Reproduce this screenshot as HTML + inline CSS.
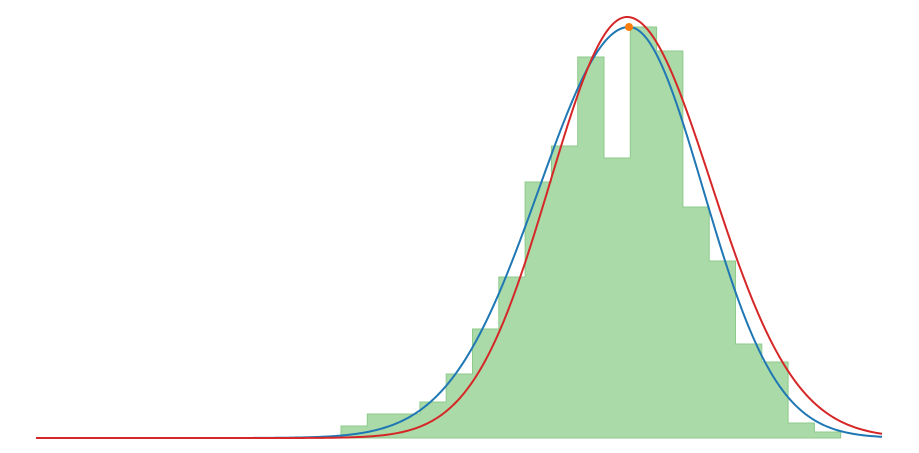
<!DOCTYPE html>
<html><head><meta charset="utf-8"><style>
html,body{margin:0;padding:0;background:#fff;}
svg{display:block;}
</style></head><body>
<svg id="chart" width="919" height="453" xmlns="http://www.w3.org/2000/svg"></svg>
<script>
const binStart = 305;
const binWidth = 26.3;
const counts = [12, 24, 24, 36, 64, 109, 161, 256, 292, 381, 280, 411, 387, 231, 177, 94, 76, 15, 6];
const normalParams = [593, 90, 74, 411];   // mean, sigmaLeft, sigmaRight, peak
const skewParams = [591, 77, 84, 421];
const peakPoint = [593, 411];
const xDomain = [0, 847];
const yDomain = [0, 411];

const svg = document.getElementById('chart');
const NS = 'http://www.w3.org/2000/svg';
const x = v => 36 + (v - xDomain[0]) / (xDomain[1] - xDomain[0]) * 847;
const y = v => 438 - (v - yDomain[0]) / (yDomain[1] - yDomain[0]) * 411;

let d = 'M' + x(binStart) + ',' + y(0);
counts.forEach((c, i) => {
  d += ' L' + x(binStart + i * binWidth) + ',' + y(c) + ' L' + x(binStart + (i + 1) * binWidth) + ',' + y(c);
});
d += ' L' + x(binStart + counts.length * binWidth) + ',' + y(0) + ' Z';
const hist = document.createElementNS(NS, 'path');
hist.setAttribute('d', d);
hist.setAttribute('fill', '#aadaa8');
hist.setAttribute('stroke', '#8dcb8b');
hist.setAttribute('stroke-width', '1');


svg.appendChild(hist);

function curve(p, color, name) {
  let s = '';
  for (let v = xDomain[0]; v <= xDomain[1]; v += 2) {
    const sg = v < p[0] ? p[1] : p[2];
    const z = (v - p[0]) / sg;
    const val = p[3] * Math.exp(-0.5 * z * z);
    s += (s ? ' L' : 'M') + x(v).toFixed(2) + ',' + y(val).toFixed(2);
  }
  const el = document.createElementNS(NS, 'path');
  el.setAttribute('d', s);
  el.setAttribute('fill', 'none');
  el.setAttribute('stroke', color);
  el.setAttribute('stroke-width', '2');
  
  
  svg.appendChild(el);
}
curve(normalParams, '#1f77b4', 'normal-fit-curve');
curve(skewParams, '#d62728', 'skew-fit-curve');

const dot = document.createElementNS(NS, 'circle');
dot.setAttribute('cx', x(peakPoint[0]));
dot.setAttribute('cy', y(peakPoint[1]));
dot.setAttribute('r', '4');
dot.setAttribute('fill', '#ff7f0e');


svg.appendChild(dot);
</script>
</body></html>
